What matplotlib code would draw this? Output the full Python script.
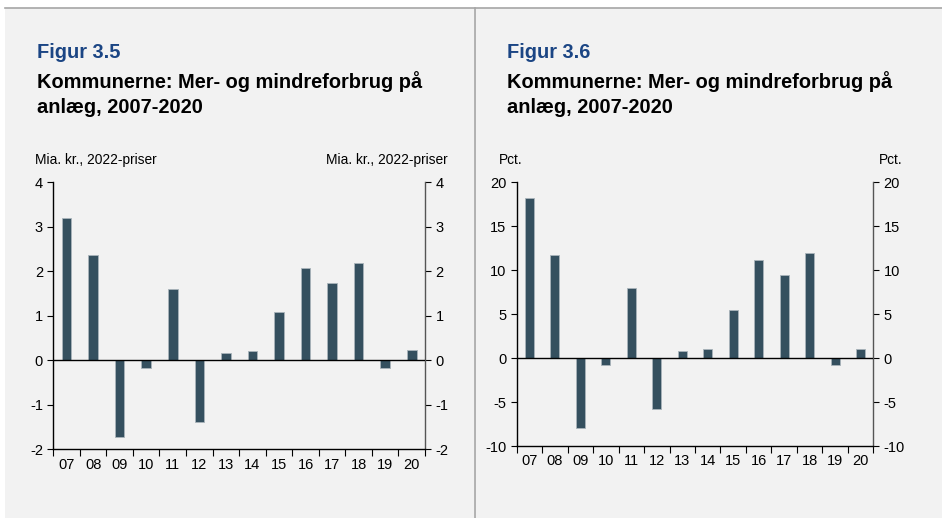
import numpy as np
import matplotlib.pyplot as plt
from matplotlib.patches import Rectangle
from matplotlib.lines import Line2D

plt.rcParams['font.family'] = ['Liberation Sans', 'DejaVu Sans']

years = ['07', '08', '09', '10', '11', '12', '13', '14', '15', '16', '17', '18', '19', '20']
mia_kr = [3.20, 2.37, -1.72, -0.18, 1.61, -1.39, 0.17, 0.22, 1.08, 2.07, 1.74, 2.18, -0.17, 0.23]
pct = [18.2, 11.7, -7.9, -0.8, 8.0, -5.8, 0.85, 1.07, 5.45, 11.2, 9.4, 11.9, -0.8, 1.02]

bar_color = '#35505f'
bg = '#f2f2f2'
W, H = 942, 518

fig = plt.figure(figsize=(W / 100, H / 100), dpi=100)
fig.patch.set_facecolor('white')

# baggrund og skillelinjer
fig.add_artist(Rectangle((5 / W, 0), (474 - 5) / W, 1 - 8 / H, transform=fig.transFigure,
                         facecolor=bg, edgecolor='none', zorder=-10))
fig.add_artist(Rectangle((475 / W, 0), (W - 475) / W, 1 - 8 / H, transform=fig.transFigure,
                         facecolor=bg, edgecolor='none', zorder=-10))
fig.add_artist(Line2D([5 / W, 1], [1 - 8 / H] * 2, transform=fig.transFigure, color='#a6a6a6', lw=1.2))
fig.add_artist(Line2D([474.5 / W] * 2, [0, 1 - 8 / H], transform=fig.transFigure, color='#a6a6a6', lw=1.2))


def panel(rect, values, ylim, yticks, fig_no, unit, x0, unit_right):
    ax = fig.add_axes(rect)
    ax.set_facecolor(bg)
    x = np.arange(len(years))
    ax.bar(x, values, width=0.36, color=bar_color, edgecolor='#a9b4ba', linewidth=0.6, zorder=3)
    ax.axhline(0, color='black', lw=1, zorder=4)
    ax.set_xlim(-0.5, len(years) - 0.5)
    ax.set_ylim(*ylim)
    ax.set_yticks(yticks)
    ax.set_yticklabels([str(t) for t in yticks])
    ax.set_xticks(x)
    ax.set_xticklabels(years)
    ax.set_xticks(np.arange(-0.5, len(years)), minor=True)
    ax.tick_params(axis='x', which='major', length=0, labelsize=10.5, pad=6)
    ax.tick_params(axis='x', which='minor', length=5, width=0.8, direction='out')
    ax.tick_params(axis='y', left=True, right=True, labelleft=True, labelright=True,
                   direction='out', length=4, width=0.8, labelsize=10.5)
    ax.spines['top'].set_visible(False)
    for s in ['left', 'bottom']:
        ax.spines[s].set_linewidth(1)
    ax.spines['right'].set_color('#555555')
    ax.spines['right'].set_linewidth(1)

    fig.text(x0 / W, 1 - 58.5 / H, fig_no, color='#1b4584', fontsize=14.4, fontweight='bold', va='baseline')
    fig.text(x0 / W, 1 - 88 / H, 'Kommunerne: Mer- og mindreforbrug på', fontsize=14.4,
             fontweight='bold', va='baseline')
    fig.text(x0 / W, 1 - 113 / H, 'anlæg, 2007-2020', fontsize=14.4, fontweight='bold', va='baseline')
    fig.text((rect[0] * W - 18) / W, 1 - 164 / H, unit, fontsize=9.9, va='baseline')
    fig.text(unit_right / W, 1 - 164 / H, unit, fontsize=9.9, va='baseline', ha='right')
    return ax


panel([53.3 / W, 1 - 449.3 / H, 371.7 / W, 267 / H], mia_kr, (-2, 4), [-2, -1, 0, 1, 2, 3, 4],
      'Figur 3.5', 'Mia. kr., 2022-priser', 37, 448)
panel([516.7 / W, 1 - 446 / H, 356.6 / W, 263.7 / H], pct, (-10, 20), [-10, -5, 0, 5, 10, 15, 20],
      'Figur 3.6', 'Pct.', 507, 903)

fig.savefig('out.png', dpi=100, facecolor=fig.get_facecolor())
